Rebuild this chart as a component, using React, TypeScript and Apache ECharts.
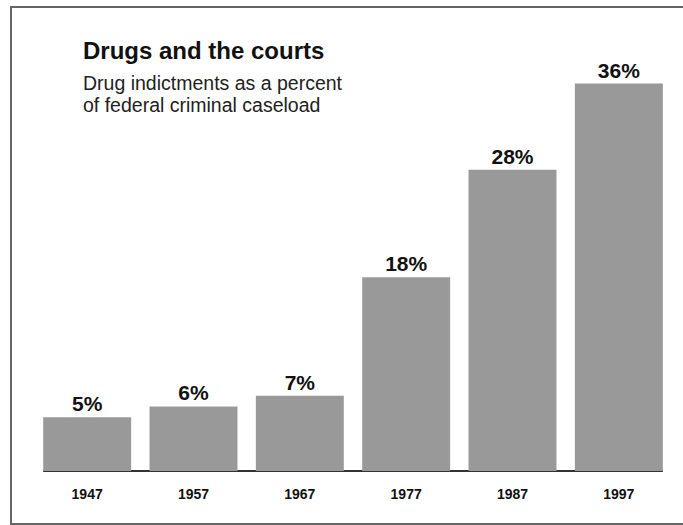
import React, { useEffect, useRef } from "react";
import * as echarts from "echarts";

const years = ["1947", "1957", "1967", "1977", "1987", "1997"];
const shares = [5, 6, 7, 18, 28, 36];
const titleText = "Drugs and the courts";
const subtitleLines = ["Drug indictments as a percent", "of federal criminal caseload"];

const FONT = "'Liberation Sans', Arial, Helvetica, sans-serif";

export default function App() {
  const ref = useRef<HTMLDivElement>(null);
  useEffect(() => {
    if (!ref.current) return;
    const chart = echarts.init(ref.current, null, { renderer: "svg" });
    chart.setOption({
      animation: false,
      backgroundColor: "#ffffff",
      grid: { left: 34, right: 11, top: 40.5, bottom: 54 },
      xAxis: {
        type: "category",
        data: years,
        axisLine: { show: false },
        axisTick: { show: false },
        axisLabel: {
          color: "#111",
          fontFamily: FONT,
          fontWeight: "bold",
          fontSize: 14,
          margin: 16,
        },
      },
      yAxis: {
        type: "value",
        min: 0,
        max: 40,
        show: false,
        splitLine: { show: false },
      },
      series: [
        {
          type: "bar",
          data: shares,
          barCategoryGap: "17.3%",
          itemStyle: { color: "#999999" },
          label: {
            show: true,
            position: "top",
            distance: 3,
            formatter: "{c}%",
            color: "#111",
            fontFamily: FONT,
            fontWeight: "bold",
            fontSize: 21,
          },
        },
      ],
    });

    const half = 44;
    const x0 = (chart.convertToPixel({ xAxisIndex: 0 }, 0) as number) - half;
    const x1 = (chart.convertToPixel({ xAxisIndex: 0 }, years.length - 1) as number) + half;
    const y0 = chart.convertToPixel({ yAxisIndex: 0 }, 0) as number;

    chart.setOption({
      graphic: [
        {
          type: "rect",
          shape: { x: 11, y: 7, width: 680, height: 517 },
          style: { fill: "none", stroke: "#666", lineWidth: 2 },
          silent: true,
        },
        {
          type: "line",
          shape: { x1: x0, y1: y0, x2: x1, y2: y0 },
          style: { stroke: "#333", lineWidth: 2 },
          silent: true,
        },
        {
          type: "text",
          x: 83,
          y: 50,
          style: {
            text: titleText,
            font: `bold 24px ${FONT}`,
            fill: "#111",
            verticalAlign: "middle",
          },
        },
        {
          type: "text",
          x: 83,
          y: 94,
          style: {
            text: subtitleLines.join("\n"),
            font: `19.5px ${FONT}`,
            lineHeight: 22.5,
            fill: "#222",
            verticalAlign: "middle",
          },
        },
      ],
    });

    return () => chart.dispose();
  }, []);

  return (
    <div
      ref={ref}
      style={{ width: 683, height: 525, position: "absolute", left: 0, top: 0 }}
    />
  );
}
